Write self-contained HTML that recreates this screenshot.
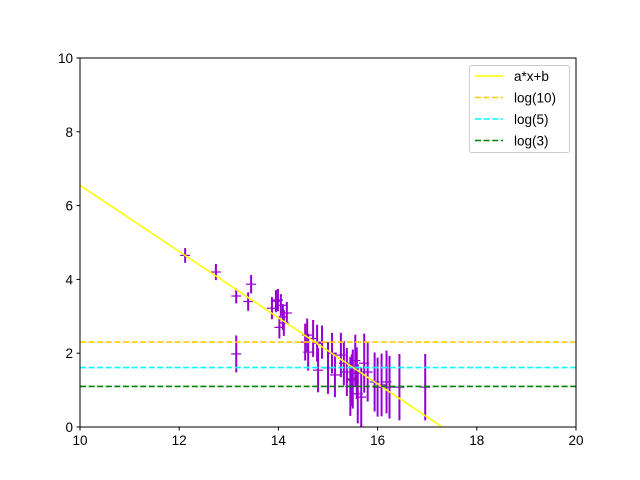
<!DOCTYPE html>
<html><head><meta charset="utf-8"><style>html,body{margin:0;padding:0;width:640px;height:480px;overflow:hidden;background:#fff}svg{display:block;font-family:"Liberation Sans","DejaVu Sans",sans-serif}</style></head>
<body>
<svg id="chart" width="640" height="480"></svg>
<script>
const xs=[12.12,12.74,13.15,13.39,13.45,13.15,13.87,13.95,13.99,14.09,14.17,14.11,14.02,14.05,14.58,14.54,14.6,14.78,14.88,14.8,15.08,15.14,15.26,15.32,15.38,15.48,15.58,15.67,15.73,15.8,15.94,16.0,16.08,16.18,16.24,16.44,16.96,14.7,15.0,15.45,15.55,15.5,15.6];
const ys=[4.65,4.2,3.55,3.4,3.87,1.98,3.22,3.41,3.44,2.98,3.09,2.82,2.7,3.3,2.49,2.3,2.03,2.27,2.3,1.54,2.0,1.41,1.95,1.73,1.49,1.27,1.46,0.81,1.73,1.49,1.22,1.08,1.14,1.22,1.08,1.08,1.08,2.4,1.6,1.1,1.8,1.3,0.9];
const errs=[0.2,0.22,0.2,0.25,0.25,0.5,0.3,0.3,0.3,0.35,0.3,0.35,0.3,0.3,0.45,0.5,0.5,0.5,0.45,0.6,0.55,0.6,0.6,0.6,0.65,0.7,0.7,0.8,0.8,0.8,0.8,0.8,0.85,0.85,0.85,0.9,0.9,0.5,0.7,0.8,0.7,0.8,0.8];
const slope=-0.897, intercept=15.52;
const hlines=[{v:Math.log(10),c:"#ffcc00",l:"log(10)"},{v:Math.log(5),c:"#00ffff",l:"log(5)"},{v:Math.log(3),c:"#008000",l:"log(3)"}];
const xticks=[10,12,14,16,18,20], yticks=[0,2,4,6,8,10];
const L=80,R=576,T=58,B=427;
const X=v=>L+(v-10)/10*(R-L), Y=v=>B-(v/10)*(B-T);
const svg=document.getElementById('chart'), NS="http://www.w3.org/2000/svg";
function mk(t,a,p){const e=document.createElementNS(NS,t);for(const k in a)e.setAttribute(k,a[k]);(p||svg).appendChild(e);return e;}
const clip=mk('clipPath',{id:'c'});mk('rect',{x:L,y:T,width:R-L,height:B-T},clip);
const g=mk('g',{'clip-path':'url(#c)'});


xs.forEach((x,i)=>{
 const e=mk('g',{stroke:'#9400d3','stroke-width':2},g);
 
 
 mk('line',{x1:X(x),x2:X(x),y1:Y(ys[i]-errs[i]),y2:Y(ys[i]+errs[i])},e);
 mk('line',{x1:X(x)-5,x2:X(x)+5,y1:Y(ys[i]),y2:Y(ys[i]),'stroke-width':1.2},e);
});
const fit=mk('line',{x1:X(10),y1:Y(slope*10+intercept),x2:X(20),y2:Y(slope*20+intercept),stroke:'#ffff00','stroke-width':1.5},g);


hlines.forEach(h=>{const e=mk('line',{x1:L,x2:R,y1:Y(h.v),y2:Y(h.v),stroke:h.c,'stroke-width':1.6,'stroke-dasharray':'6,2.6'},g);
 
 });
const ax=mk('rect',{x:L,y:T,width:R-L,height:B-T,fill:'none',stroke:'#000','stroke-width':1});


xticks.forEach(t=>{mk('line',{x1:X(t),x2:X(t),y1:B,y2:B+3.5,stroke:'#000'});
 const e=mk('text',{x:X(t),y:B+18,'text-anchor':'middle','font-size':13.5});e.textContent=t;
 
 });
yticks.forEach(t=>{mk('line',{x1:L-3.5,x2:L,y1:Y(t),y2:Y(t),stroke:'#000'});
 const e=mk('text',{x:L-7,y:Y(t)+5,'text-anchor':'end','font-size':13.5});e.textContent=t;
 
 });
const lg=mk('g',{});


mk('rect',{x:469.5,y:65.5,width:100,height:87,rx:2,fill:'#fff',stroke:'#ccc'},lg);
const items=[{c:'#ffff00',l:'a*x+b',d:null}].concat(hlines.map(h=>({c:h.c,l:h.l,d:'6,2.6'})));
items.forEach((it,i)=>{const y=76+i*21.5;
 const a={x1:475,x2:503,y1:y,y2:y,stroke:it.c,'stroke-width':1.6};if(it.d)a['stroke-dasharray']=it.d;mk('line',a,lg);
 const e=mk('text',{x:514,y:y+5,'font-size':13.5},lg);e.textContent=it.l;
 
 });
</script>
</body></html>
